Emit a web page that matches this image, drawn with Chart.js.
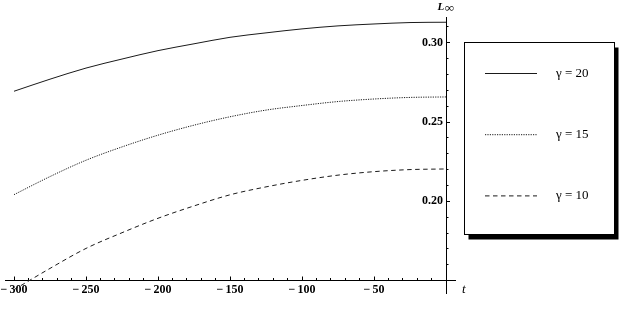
<!DOCTYPE html>
<html><head><meta charset="utf-8">
<script src="https://cdn.jsdelivr.net/npm/chart.js@4.4.1/dist/chart.umd.min.js"></script>
<style>html,body{margin:0;padding:0;background:#fff}</style>
</head><body>
<canvas id="c" width="624" height="318"></canvas>
<script>
// ---- data ----
const tValues = [-300, -275, -250, -225, -200, -175, -150, -125, -100, -75, -50, -25, 0];
const gamma20 = [0.2694, 0.2770, 0.2840, 0.2897, 0.2950, 0.2993, 0.3034, 0.3062, 0.3087, 0.3106, 0.3118, 0.3127, 0.3129];
const gamma15 = [0.2042, 0.2156, 0.2259, 0.2343, 0.2417, 0.2480, 0.2533, 0.2575, 0.2604, 0.2629, 0.2645, 0.2655, 0.2658];
const gamma10 = [0.1443, 0.1577, 0.1703, 0.1802, 0.1893, 0.1971, 0.2041, 0.2091, 0.2132, 0.2165, 0.2187, 0.2200, 0.2204];
const seriesLabels = ['γ = 20', 'γ = 15', 'γ = 10'];
const xTicks = [-300, -290, -280, -270, -260, -250, -240, -230, -220, -210, -200, -190, -180, -170, -160, -150, -140, -130, -120, -110, -100, -90, -80, -70, -60, -50, -40, -30, -20, -10];
const xLabeled = [-300, -250, -200, -150, -100, -50];
const yTicks = [0.16, 0.17, 0.18, 0.19, 0.20, 0.21, 0.22, 0.23, 0.24, 0.25, 0.26, 0.27, 0.28, 0.29, 0.30, 0.31];
const yLabeled = [0.20, 0.25, 0.30];
const xAxisTitle = 't';
const yAxisTitle = 'L';
const yAxisTitleSub = '∞';

const isIn = (arr, v) => arr.some(a => Math.abs(a - v) < 1e-9);
const fmtX = v => v < 0 ? '\u2212\u2009' + Math.abs(v) : String(v);
const serif = '"Liberation Serif", "Times New Roman", serif';
const zeroPad = s => { s.paddingLeft = 0; s.paddingRight = 0; s.paddingTop = 0; s.paddingBottom = 0; };

const decor = {
  id: 'decor',
  afterDraw(chart) {
    const {ctx, scales: {x, y}} = chart;
    ctx.save();
    ctx.fillStyle = '#000';
    // axis titles
    ctx.textBaseline = 'alphabetic';
    ctx.textAlign = 'left';
    ctx.font = 'italic 13px ' + serif;
    ctx.fillText(xAxisTitle, x.right + 7, y.getPixelForValue(0.15) + 12);
    const lx = x.getPixelForValue(0) - 8.5, ly = y.top - 7;
    ctx.font = 'italic bold 11px ' + serif;
    ctx.fillText(yAxisTitle, lx, ly);
    const lw = ctx.measureText(yAxisTitle).width;
    ctx.font = 'italic 13px ' + serif;
    ctx.fillText(yAxisTitleSub, lx + lw + 0.5, ly + 1.5);
    // legend box with shadow
    const bx = 464.5, by = 42.5, bw = 150, bh = 192;
    ctx.fillStyle = '#000';
    ctx.fillRect(bx + 4, by + 5, bw, bh);
    ctx.fillStyle = '#fff';
    ctx.fillRect(bx, by, bw, bh);
    ctx.strokeStyle = '#000';
    ctx.lineWidth = 1;
    ctx.strokeRect(bx, by, bw, bh);
    chart.data.datasets.forEach((ds, i) => {
      const yy = 73.5 + i * 61.2;
      ctx.setLineDash(ds.borderDash || []);
      ctx.strokeStyle = ds.borderColor;
      ctx.lineWidth = ds.borderWidth;
      ctx.beginPath();
      ctx.moveTo(485, yy);
      ctx.lineTo(537, yy);
      ctx.stroke();
      ctx.setLineDash([]);
      ctx.fillStyle = '#000';
      ctx.font = '13px ' + serif;
      ctx.textBaseline = 'middle';
      ctx.fillText(ds.label, 556, yy);
    });
    ctx.restore();
  }
};

const mk = (label, vals, dash) => ({
  label,
  data: tValues.map((t, i) => ({x: t, y: vals[i]})),
  borderColor: '#1a1a1a',
  borderWidth: 1,
  borderDash: dash,
  pointRadius: 0,
  fill: false,
  cubicInterpolationMode: 'monotone'
});

new Chart(document.getElementById('c'), {
  type: 'line',
  data: {
    datasets: [
      mk(seriesLabels[0], gamma20, []),
      mk(seriesLabels[1], gamma15, [1.2, 1.2]),
      mk(seriesLabels[2], gamma10, [4.5, 3.5])
    ]
  },
  options: {
    responsive: false,
    devicePixelRatio: 1,
    animation: false,
    layout: {padding: {left: 5, right: 169, top: 17, bottom: 25}, autoPadding: false},
    plugins: {legend: {display: false}, tooltip: {enabled: false}},
    scales: {
      x: {
        type: 'linear',
        min: -306.25, max: 6.25,
        position: {y: 0.15},
        afterBuildTicks: s => { s.ticks = xTicks.map(v => ({value: v})); },
        afterFit: zeroPad,
        grid: {
          display: true, drawOnChartArea: false, drawTicks: true,
          tickLength: -4.5, tickColor: '#000', tickWidth: 1,
          tickBorderDash: c => isIn(xLabeled, c.tick ? c.tick.value : NaN) ? [] : [3, 50]
        },
        border: {display: true, color: '#000', width: 1},
        ticks: {
          autoSkip: false, maxRotation: 0, minRotation: 0, padding: 7, color: '#000',
          font: {family: serif, size: 12, weight: 'bold'},
          callback: v => isIn(xLabeled, v) ? fmtX(v) : ''
        }
      },
      y: {
        type: 'linear',
        min: 0.1422, max: 0.3162,
        position: {x: 0},
        afterBuildTicks: s => { s.ticks = yTicks.map(v => ({value: v})); },
        afterFit: zeroPad,
        grid: {
          display: true, drawOnChartArea: false, drawTicks: true,
          tickLength: -4, tickColor: '#000', tickWidth: 1,
          tickBorderDash: c => isIn(yLabeled, c.tick ? c.tick.value : NaN) ? [] : [2.5, 50]
        },
        border: {display: true, color: '#000', width: 1},
        ticks: {
          autoSkip: false, color: '#000',
          font: {family: serif, size: 12, weight: 'bold'},
          callback: v => isIn(yLabeled, v) ? v.toFixed(2) + ' ' : ''
        }
      }
    }
  },
  plugins: [decor]
});
</script>
</body></html>
